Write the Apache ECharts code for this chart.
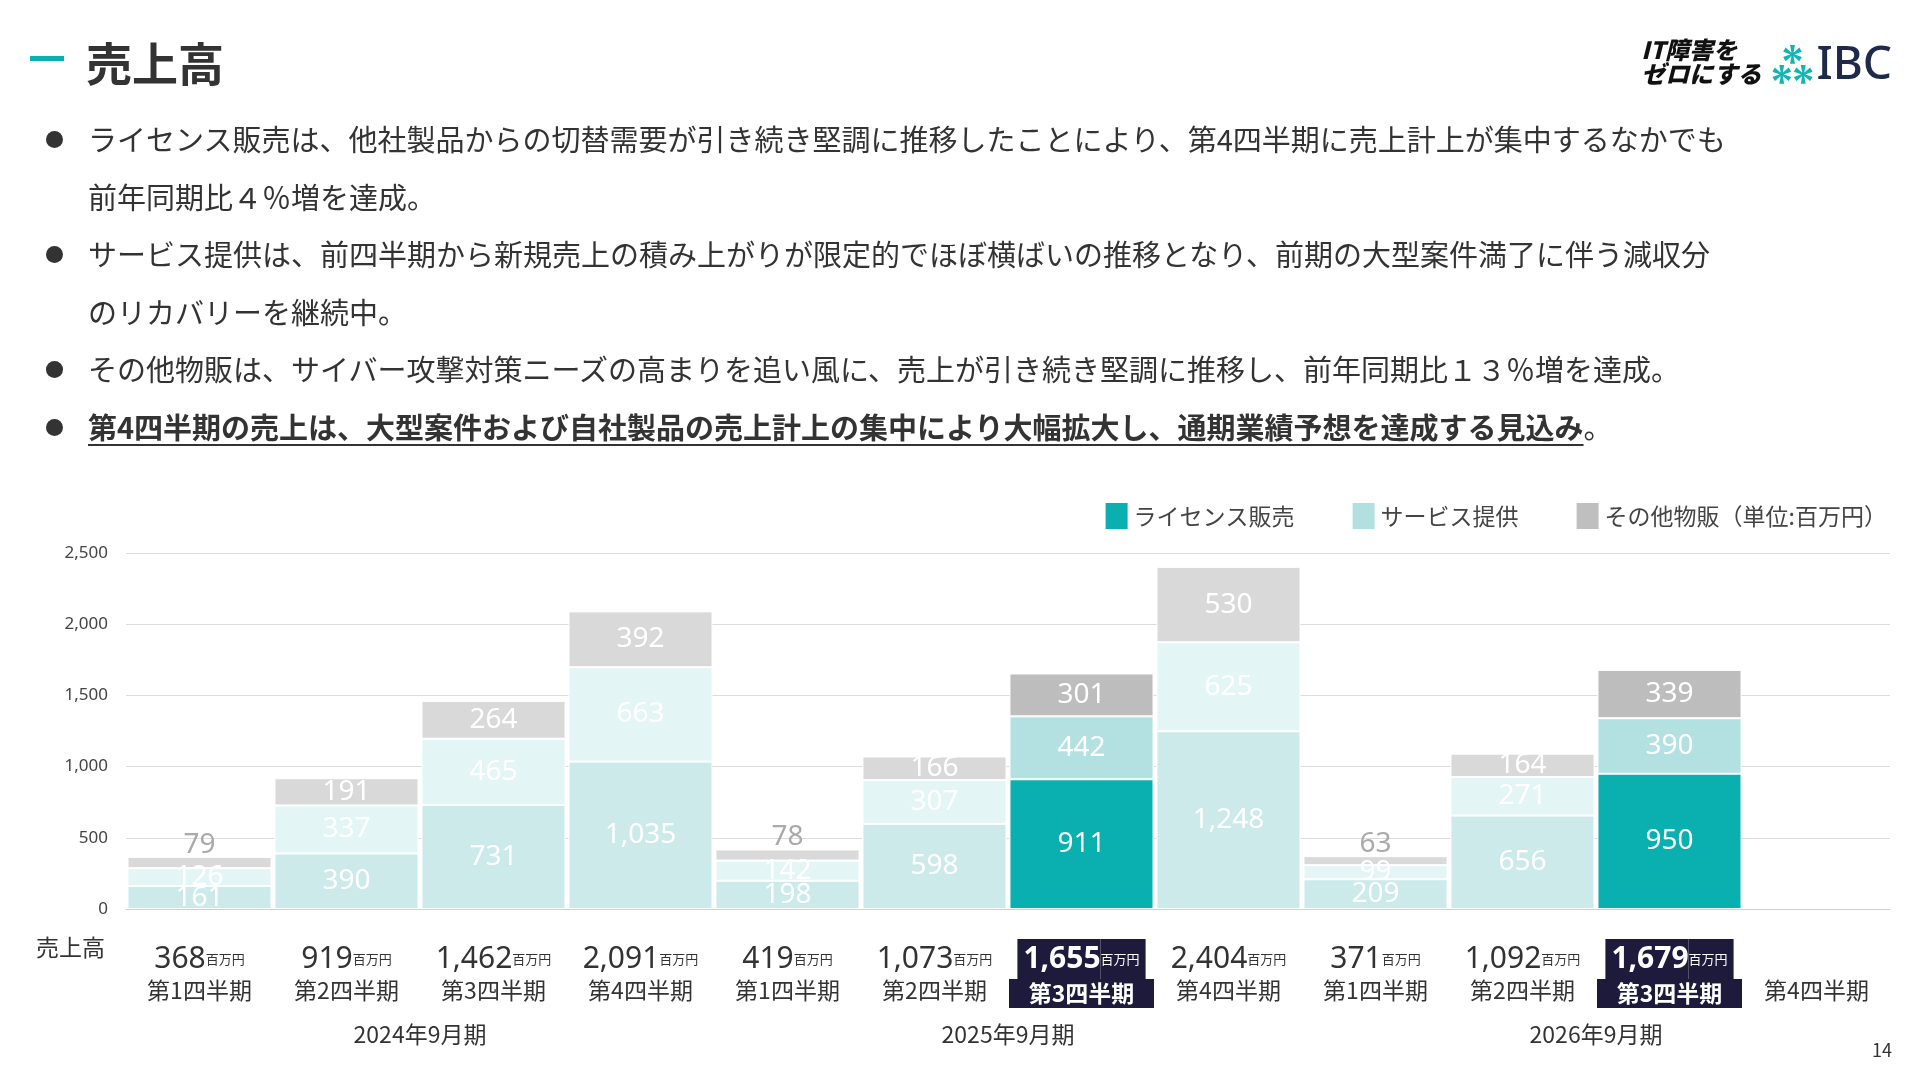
<!DOCTYPE html>
<html lang="ja">
<head>
<meta charset="UTF-8" />
<title>売上高</title>
<style>
  html, body { margin: 0; padding: 0; background: #fff; }
  body { width: 1920px; height: 1080px; position: relative; overflow: hidden;
         font-family: "Noto Sans CJK JP", "Noto Sans", sans-serif; color: #333; }
  #main { position: absolute; left: 0; top: 0; width: 1920px; height: 1080px; }
  .title { position: absolute; left: 86px; top: 28px; font-size: 46px; font-weight: 700; color: #333; }
  .dash { position: absolute; left: 30px; top: 56px; width: 34px; height: 5px; background: #0aafaf; }
  .logo { position: absolute; right: 28px; top: 26px; font-size: 30px; font-weight: 900; }
  .logo .it { font-style: italic; font-size: 24px; line-height: 24px; display: inline-block; vertical-align: middle; color: #111; }
  .logo .x { color: #11b5b5; font-size: 48px; vertical-align: middle; }
  .logo .ibc { color: #1e2a4a; font-size: 46px; vertical-align: middle; font-family: "Noto Sans", sans-serif; font-weight: 500; }
  ul { position: absolute; left: 40px; top: 110px; margin: 0; padding: 0; list-style: none; width: 1860px; }
  li { position: relative; padding-left: 48px; font-size: 29px; line-height: 57.5px; color: #333; }
  li:before { content: ""; position: absolute; left: 6px; top: 21px; width: 17px; height: 17px; border-radius: 50%; background: #333; }
  li.em span { font-weight: 700; text-decoration: underline; text-underline-offset: 5px; }
  .page { position: absolute; right: 28px; bottom: 18px; font-size: 18px; color: #333; }
</style>
</head>
<body>
<div id="main"></div>
<div class="dash"></div>
<div class="title">売上高</div>
<div class="logo"><span class="it">IT障害を<br>ゼロにする</span> <span class="x">⁂</span><span class="ibc">IBC</span></div>
<ul>
  <li>ライセンス販売は、他社製品からの切替需要が引き続き堅調に推移したことにより、第4四半期に売上計上が集中するなかでも<br>前年同期比４％増を達成。</li>
  <li>サービス提供は、前四半期から新規売上の積み上がりが限定的でほぼ横ばいの推移となり、前期の大型案件満了に伴う減収分<br>のリカバリーを継続中。</li>
  <li>その他物販は、サイバー攻撃対策ニーズの高まりを追い風に、売上が引き続き堅調に推移し、前年同期比１３％増を達成。</li>
  <li class="em"><span>第4四半期の売上は、大型案件および自社製品の売上計上の集中により大幅拡大し、通期業績予想を達成する見込み</span>。</li>
</ul>
<div class="page">14</div>
<script src="https://cdn.jsdelivr.net/npm/echarts@6/dist/echarts.min.js"></script>
<script>
var quarters = ['第1四半期','第2四半期','第3四半期','第4四半期','第1四半期','第2四半期','第3四半期','第4四半期','第1四半期','第2四半期','第3四半期','第4四半期'];
var years = ['2024年9月期','2025年9月期','2026年9月期'];
var license = [161, 390, 731, 1035, 198, 598, 911, 1248, 209, 656, 950, null];
var service = [126, 337, 465, 663, 142, 307, 442, 625, 99, 271, 390, null];
var other = [79, 191, 264, 392, 78, 166, 301, 530, 63, 164, 339, null];
var totals = [368, 919, 1462, 2091, 419, 1073, 1655, 2404, 371, 1092, 1679, null];
var highlight = [6, 10];

var chart = echarts.init(document.getElementById('main'));
var fmt = function (v) { return v.toLocaleString('en-US'); };

function mk(values, base, hi, small) {
  return values.map(function (v, i) {
    var isHi = highlight.indexOf(i) >= 0;
    var item = { value: v, itemStyle: { color: isHi ? hi : base } };
    if (small && v !== null && v < 100) {
      item.label = { position: 'top', color: '#aaaaaa', distance: -2 };
    }
    return item;
  });
}

var lbl = { show: true, color: '#fff', fontSize: 28, fontFamily: 'Noto Sans', formatter: function (p) { return p.value == null ? '' : fmt(p.value); } };

chart.setOption({
  animation: false,
  textStyle: { fontFamily: 'Noto Sans CJK JP' },
  legend: {
    right: 28, top: 496, itemWidth: 24, itemHeight: 28, itemGap: 56,
    icon: 'rect',
    textStyle: { fontSize: 23, color: '#444' },
    formatter: function (n) { return n === 'その他物販' ? n + '（単位:百万円）' : n; },
    data: [
      { name: 'ライセンス販売', itemStyle: { color: '#0aafaf' } },
      { name: 'サービス提供', itemStyle: { color: '#b2e0e0' } },
      { name: 'その他物販', itemStyle: { color: '#bfbfbf' } }
    ]
  },
  grid: { left: 126, right: 30, top: 553, bottom: 171 },
  xAxis: [
    {
      type: 'category', data: totals.map(String), position: 'bottom',
      axisLine: { lineStyle: { color: '#d0d0d0' } }, axisTick: { show: false },
      axisLabel: {
        interval: 0, margin: 24,
        formatter: function (v, i) {
          if (totals[i] == null) return '';
          var h = highlight.indexOf(i) >= 0;
          return h ? '{ht|' + fmt(totals[i]) + '}{hu|百万円}' : '{t|' + fmt(totals[i]) + '}{u|百万円}';
        },
        rich: {
          t: { fontSize: 30, color: '#333', fontFamily: 'Noto Sans', height: 40, lineHeight: 40 },
          u: { fontSize: 13, color: '#333', height: 40, lineHeight: 52 },
          ht: { fontSize: 30, color: '#fff', fontWeight: 'bold', fontFamily: 'Noto Sans', backgroundColor: '#1e1a3c', padding: [0, 0, 0, 6], height: 40, lineHeight: 40 },
          hu: { fontSize: 13, color: '#fff', backgroundColor: '#1e1a3c', padding: [0, 6, 0, 0], height: 40, lineHeight: 52 }
        }
      }
    },
    {
      type: 'category', data: quarters, position: 'bottom', gridIndex: 0,
      axisLine: { show: false }, axisTick: { show: false },
      axisLabel: {
        interval: 0, margin: 70,
        formatter: function (v, i) { return highlight.indexOf(i) >= 0 ? '{h|' + v + '}' : '{n|' + v + '}'; },
        rich: {
          n: { fontSize: 23, color: '#333' },
          h: { fontSize: 23, color: '#fff', fontWeight: 'bold', backgroundColor: '#1e1a3c', padding: [3, 14, 3, 14], width: 117, align: 'center' }
        }
      }
    },
    {
      type: 'category', data: years, position: 'bottom', gridIndex: 0,
      axisLine: { show: false }, axisTick: { show: false },
      axisLabel: { interval: 0, margin: 114, fontSize: 23, color: '#333' }
    }
  ],
  yAxis: {
    type: 'value', min: 0, max: 2500, interval: 500,
    axisLabel: { fontSize: 17, color: '#444', fontFamily: 'Noto Sans', margin: 18, formatter: fmt },
    splitLine: { lineStyle: { color: '#dcdcdc' } }
  },
  graphic: [
    { type: 'text', left: 36, top: 936, style: { text: '売上高', fontSize: 23, fill: '#333', fontFamily: 'Noto Sans CJK JP' } }
  ],
  series: [
    { name: 'ライセンス販売', type: 'bar', stack: 's', barCategoryGap: '2%', xAxisIndex: 0,
      itemStyle: { borderColor: '#fff', borderWidth: 1 }, label: lbl,
      data: mk(license, '#cdeaea', '#0aafaf') },
    { name: 'サービス提供', type: 'bar', stack: 's', xAxisIndex: 0,
      itemStyle: { borderColor: '#fff', borderWidth: 1 }, label: lbl,
      data: mk(service, '#e4f5f5', '#b3e1e1') },
    { name: 'その他物販', type: 'bar', stack: 's', xAxisIndex: 0,
      itemStyle: { borderColor: '#fff', borderWidth: 1 }, label: lbl,
      data: mk(other, '#d9d9d9', '#bdbdbd', true) }
  ]
});
</script>
</body>
</html>
